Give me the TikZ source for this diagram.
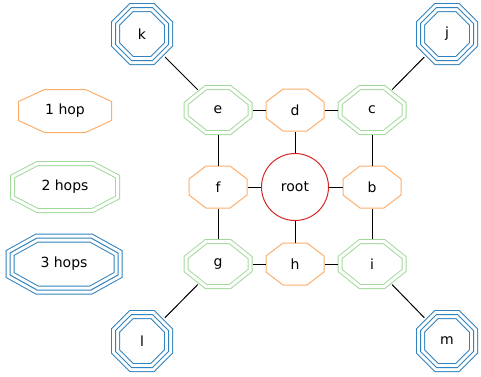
\documentclass[tikz,border=0pt]{standalone}
\usepackage{fontspec}
\setmainfont{DejaVu Sans}

\definecolor{hopone}{HTML}{FDAE6B}
\definecolor{hoptwo}{HTML}{A1D99B}
\definecolor{hopthree}{HTML}{3182BD}
\definecolor{rootred}{HTML}{D62728}

% octagon with a fixed chamfer (hop cx, hop cy)
\makeatletter
\pgfkeys{/pgf/hop cx/.initial=10pt, /pgf/hop cy/.initial=10pt}
\pgfdeclareshape{hopoctagon}{%
  \inheritsavedanchors[from=rectangle]
  \inheritanchor[from=rectangle]{center}
  \inheritanchor[from=rectangle]{north}
  \inheritanchor[from=rectangle]{south}
  \inheritanchor[from=rectangle]{east}
  \inheritanchor[from=rectangle]{west}
  \inheritanchor[from=rectangle]{mid}
  \inheritanchor[from=rectangle]{base}
  \savedanchor\hopchamfer{%
    \pgfmathsetlength\pgf@x{\pgfkeysvalueof{/pgf/hop cx}}%
    \pgfmathsetlength\pgf@y{\pgfkeysvalueof{/pgf/hop cy}}%
  }
  \backgroundpath{%
    \southwest \pgf@xa=\pgf@x \pgf@ya=\pgf@y
    \northeast \pgf@xb=\pgf@x \pgf@yb=\pgf@y
    \pgfmathsetlength\pgfutil@tempdima{\pgfkeysvalueof{/pgf/outer xsep}}%
    \pgfmathsetlength\pgfutil@tempdimb{\pgfkeysvalueof{/pgf/outer ysep}}%
    \advance\pgf@xa by\pgfutil@tempdima \advance\pgf@ya by\pgfutil@tempdimb
    \advance\pgf@xb by-\pgfutil@tempdima \advance\pgf@yb by-\pgfutil@tempdimb
    \edef\hop@l{\the\pgf@xa}\edef\hop@b{\the\pgf@ya}%
    \edef\hop@r{\the\pgf@xb}\edef\hop@t{\the\pgf@yb}%
    \hopchamfer
    \edef\hop@cx{\the\pgf@x}\edef\hop@cy{\the\pgf@y}%
    \pgfpathmoveto{\pgfpoint{\hop@l+\hop@cx}{\hop@b}}%
    \pgfpathlineto{\pgfpoint{\hop@r-\hop@cx}{\hop@b}}%
    \pgfpathlineto{\pgfpoint{\hop@r}{\hop@b+\hop@cy}}%
    \pgfpathlineto{\pgfpoint{\hop@r}{\hop@t-\hop@cy}}%
    \pgfpathlineto{\pgfpoint{\hop@r-\hop@cx}{\hop@t}}%
    \pgfpathlineto{\pgfpoint{\hop@l+\hop@cx}{\hop@t}}%
    \pgfpathlineto{\pgfpoint{\hop@l}{\hop@t-\hop@cy}}%
    \pgfpathlineto{\pgfpoint{\hop@l}{\hop@b+\hop@cy}}%
    \pgfpathclose
  }
  \anchorborder{%
    \edef\hop@dx{\pgf@sys@tonumber\pgf@x}%
    \edef\hop@dy{\pgf@sys@tonumber\pgf@y}%
    \southwest \pgf@xa=\pgf@x \pgf@ya=\pgf@y
    \northeast \pgf@xb=\pgf@x \pgf@yb=\pgf@y
    \pgf@xc=.5\pgf@xb \advance\pgf@xc by-.5\pgf@xa
    \pgf@yc=.5\pgf@yb \advance\pgf@yc by-.5\pgf@ya
    \edef\hop@w{\pgf@sys@tonumber\pgf@xc}\edef\hop@h{\pgf@sys@tonumber\pgf@yc}%
    \advance\pgf@xa by\pgf@xc \advance\pgf@ya by\pgf@yc
    \edef\hop@mx{\the\pgf@xa}\edef\hop@my{\the\pgf@ya}%
    \hopchamfer
    \edef\hop@cx{\pgf@sys@tonumber\pgf@x}\edef\hop@cy{\pgf@sys@tonumber\pgf@y}%
    \pgfmathsetmacro\hop@s{min(\hop@w/max(abs(\hop@dx),0.01), \hop@h/max(abs(\hop@dy),0.01), (\hop@w/\hop@cx+\hop@h/\hop@cy-1)/(abs(\hop@dx)/\hop@cx+abs(\hop@dy)/\hop@cy))}%
    \pgf@x=\hop@dx pt \pgf@x=\hop@s\pgf@x \advance\pgf@x by\hop@mx
    \pgf@y=\hop@dy pt \pgf@y=\hop@s\pgf@y \advance\pgf@y by\hop@my
  }
}
\makeatother

\tikzstyle{octa} = [hopoctagon, inner sep=0pt, line width=1pt, font=\fontsize{14}{17}\selectfont]
\tikzstyle{onehop} = [octa, draw=hopone, outer sep=0.5pt]
\tikzstyle{twohop} = [octa, draw=hoptwo, double=white, double distance=3pt, outer sep=2.5pt]
\tikzstyle{threehop} = [octa, draw=hopthree, outer sep=4.5pt,
    preaction={draw=hopthree, line width=9pt},
    preaction={draw=white, line width=7pt}]
\tikzstyle{rootnode} = [circle, draw=rootred, line width=1pt, minimum size=67pt, inner sep=0pt, font=\fontsize{14}{17}\selectfont]
\tikzstyle{line} = [draw, line width=1pt]

\begin{document}
\begin{tikzpicture}[x=1pt, y=-1pt,
    small/.style={minimum width=58pt, minimum height=42pt, hop cx=17pt, hop cy=13pt},
    medium/.style={minimum width=64pt, minimum height=45pt, hop cx=20pt, hop cy=16pt},
    large/.style={minimum width=53pt, minimum height=53pt, hop cx=16pt, hop cy=16pt}]
    \useasboundingbox (0,0) rectangle (481,376);

    % legend
    \node[onehop, minimum width=93pt, minimum height=43pt, hop cx=26pt, hop cy=12pt] (legone) at (65,111) {1 hop};
    \node[twohop, minimum width=105pt, minimum height=47pt, hop cx=25pt, hop cy=13pt] (legtwo) at (65,187) {2 hops};
    \node[threehop, minimum width=108pt, minimum height=52pt, hop cx=27pt, hop cy=15pt] (legthree) at (64,264) {3 hops};

    % graph
    \node[rootnode] (root) at (295,187) {root};
    \node[onehop, small] (d) at (295,110) {d};
    \node[onehop, small] (f) at (218,187) {f};
    \node[onehop, small] (b) at (372,187) {b};
    \node[onehop, small] (h) at (295,264) {h};
    \node[twohop, medium] (e) at (218,110) {e};
    \node[twohop, medium] (c) at (372,110) {c};
    \node[twohop, medium] (g) at (218,264) {g};
    \node[twohop, medium] (i) at (372,264) {i};
    \node[threehop, large] (k) at (142,34) {k};
    \node[threehop, large] (j) at (447,34) {j};
    \node[threehop, large] (l) at (142,341) {l};
    \node[threehop, large] (m) at (447,341) {m};

    % lines
    \draw [line] (root) -- (d);
    \draw [line] (root) -- (f);
    \draw [line] (root) -- (b);
    \draw [line] (root) -- (h);
    \draw [line] (d) -- (e);
    \draw [line] (d) -- (c);
    \draw [line] (f) -- (e);
    \draw [line] (f) -- (g);
    \draw [line] (b) -- (c);
    \draw [line] (b) -- (i);
    \draw [line] (h) -- (g);
    \draw [line] (h) -- (i);
    \draw [line] (e) -- (k);
    \draw [line] (c) -- (j);
    \draw [line] (g) -- (l);
    \draw [line] (i) -- (m);
\end{tikzpicture}
\end{document}
